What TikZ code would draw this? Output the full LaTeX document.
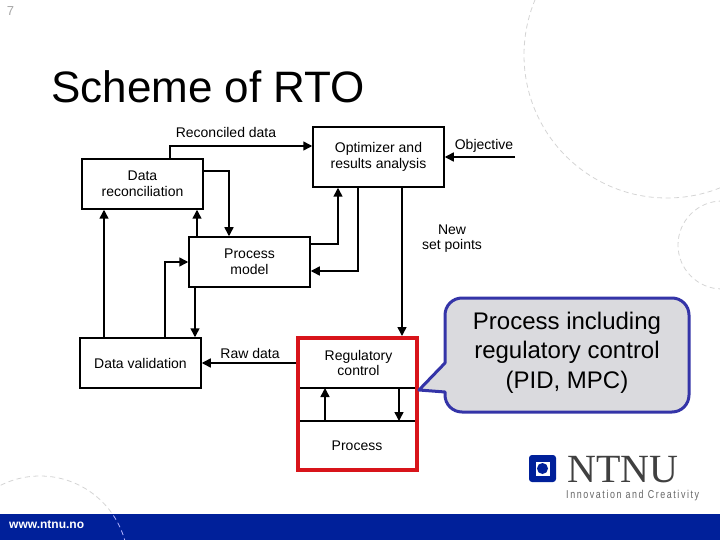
\documentclass[tikz,border=0pt]{standalone}
\usepackage{fontspec}
\setmainfont{Liberation Sans}
\newfontfamily\logoserif{Liberation Serif}
\newfontfamily\logosans[LetterSpace=14,FakeStretch=0.78]{Liberation Sans}
\usetikzlibrary{arrows.meta}
\definecolor{barblue}{HTML}{00209A}
\definecolor{callblue}{HTML}{3434A8}
\definecolor{callfill}{HTML}{DADADE}
\definecolor{boxred}{HTML}{D8141A}
\definecolor{dashgray}{HTML}{D4D4D4}
\tikzset{
	blockbox/.style={draw,line width=1.5pt,minimum width=#1,minimum height=50pt,inner sep=0pt,align=center,font=\fontsize{14}{15.5}\selectfont},
	flow/.style={line width=1.5pt,-{Triangle[length=9pt,width=9pt]}},
	lbl/.style={inner sep=0pt,align=center,font=\fontsize{14}{15.5}\selectfont},
	deco/.style={dashgray,line width=.8pt,dash pattern=on 5pt off 3.5pt}
}
\begin{document}
\begin{tikzpicture}[x=1pt,y=-1pt]
	\useasboundingbox (0,0) rectangle (720,540);
	
	\draw[deco] (667,55) circle (143);
	\draw[deco] (722,245) circle (44);
	\draw[deco] (40,564) circle (88);
	\fill[barblue] (0,514) rectangle (720,540);
	\begin{scope}
		\clip (0,514) rectangle (720,540);
		\draw[deco,color=blue!30!white] (40,564) circle (88);
	\end{scope}
	
	\node[text=black!35,inner sep=0pt,font=\fontsize{13}{15}\selectfont] (pagenum) at (10.5,11.5) {7};
	\node[anchor=base west,inner sep=0pt,font=\fontsize{44}{50}\selectfont] (title) at (51,103) {Scheme of RTO};
	\node[anchor=west,inner sep=0pt,text=white,font=\bfseries\fontsize{12}{14}\selectfont] (www) at (9,525) {www.ntnu.no};
	
	\node[blockbox=121pt] (dr) at (142.5,184) {Data\\reconciliation};
	\node[blockbox=121pt] (pm) at (249.5,262) {Process\\model};
	\node[blockbox=131pt,minimum height=60pt] (opt) at (378.5,157) {Optimizer and\\results analysis};
	\node[blockbox=121pt] (dv) at (140.5,363) {Data validation};
	
	\node[draw=boxred,line width=4pt,minimum width=119pt,minimum height=132pt,inner sep=0pt] (rtobox) at (357.5,404) {};
	\node[lbl] (reg) at (358.5,363) {Regulatory\\control};
	\node[lbl] (proc) at (357,446) {Process};
	\coordinate (regl) at (300,388);
	\coordinate (regr) at (415,388);
	\coordinate (procl) at (300,421);
	\coordinate (procr) at (415,421);
	\draw[line width=1.5pt] (regl) -- (regr);
	\draw[line width=1.5pt] (procl) -- (procr);
	
	\node[lbl] (lrec) at (226,132) {Reconciled data};
	\node[lbl] (lobj) at (484,146) {Objective};
	\node[lbl] (lnew) at (452,238.5) {New\\set points};
	\node[lbl] (lraw) at (250,353) {Raw data};
	
	\coordinate (objend) at (515,157);
	\draw[flow] ([xshift=27.5pt]dr.north) |- ([yshift=11pt]opt.west);
	\draw[flow] ([yshift=13pt]dr.east) -| ([xshift=-20.5pt]pm.north);
	\draw[flow] ([xshift=-52.5pt]pm.north) -- ([xshift=54.5pt]dr.south);
	\draw[flow] ([xshift=-36.5pt]dv.north) -- ([xshift=-38.5pt]dr.south);
	\draw[flow] ([xshift=24.5pt]dv.north) |- (pm.west);
	\draw[flow] ([xshift=-54.5pt]pm.south) -- ([xshift=54.5pt]dv.north);
	\draw[flow] ([yshift=18pt]pm.east) -| ([xshift=-40.5pt]opt.south);
	\draw[flow] ([xshift=-20.5pt]opt.south) |- ([yshift=-9pt]pm.east);
	\draw[flow] ([xshift=23.5pt]opt.south) -- ([xshift=44.5pt]rtobox.north);
	\draw[flow] (objend) -- (opt.east);
	\draw[flow] ([yshift=41pt]rtobox.west) -- (dv.east);
	\draw[flow] ([xshift=-32.5pt]procl -| rtobox.center) -- ([xshift=-32.5pt]regl -| rtobox.center);
	\draw[flow] ([xshift=41.5pt]regl -| rtobox.center) -- ([xshift=41.5pt]procl -| rtobox.center);
	
	\draw[callblue,fill=callfill,line width=3pt,line join=round]
		(419,390) -- (445,363) [rounded corners=17pt] -- (445,298) -- (689,298) -- (689,412) -- (445,412) [sharp corners] -- (445,392) -- cycle;
	\node[inner sep=0pt,align=center,font=\fontsize{24}{29.5}\selectfont] (callout) at (567,352.5) {Process including\\regulatory control\\(PID, MPC)};
	
	\fill[barblue,rounded corners=3pt] (529,455) rectangle (556,482);
	\fill[white] (535.5,461.5) rectangle (549.5,475.5);
	\fill[barblue] (542.5,468.5) circle (5.5);
	\node[anchor=base west,inner sep=0pt,text=black!75,font=\logoserif\fontsize{40}{44}\selectfont] (ntnu) at (567,482) {NTNU};
	\node[anchor=west,inner sep=0pt,text=black!60,font=\logosans\fontsize{11.4}{13}\selectfont] (slogan) at (566,496) {Innovation and Creativity};
\end{tikzpicture}
\end{document}
